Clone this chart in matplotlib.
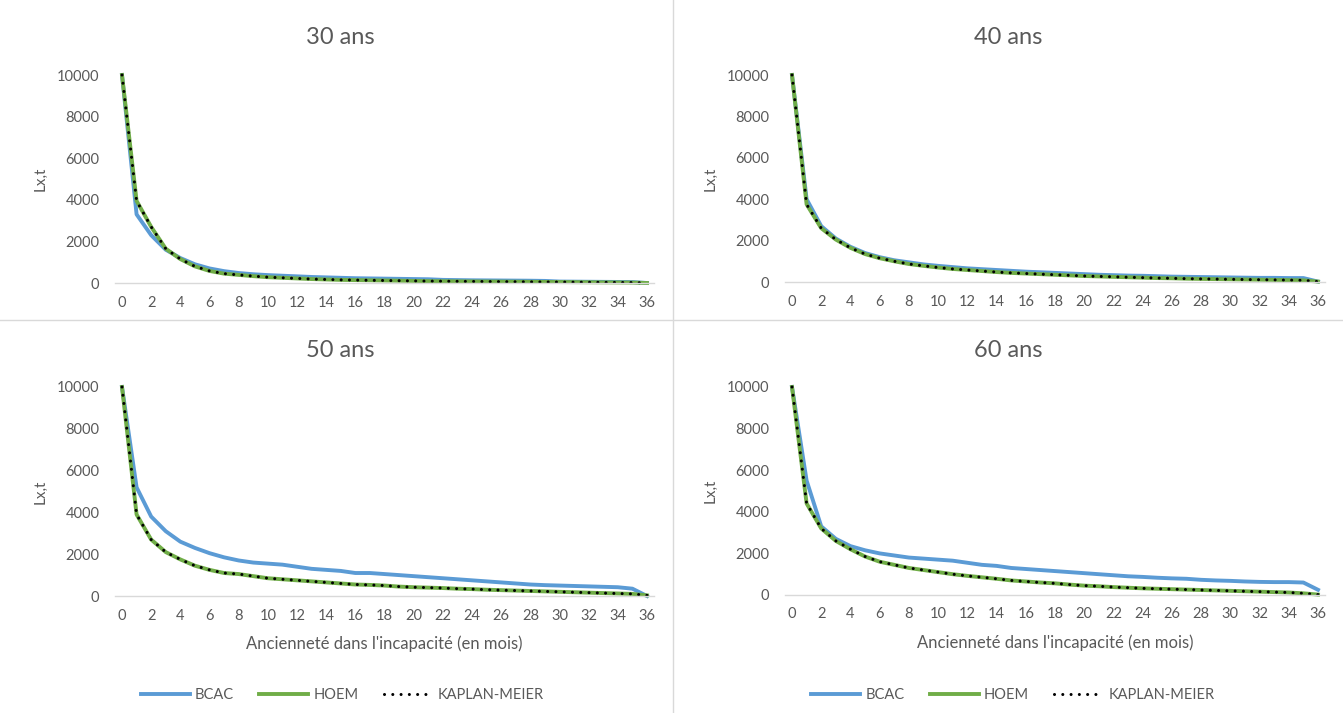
import matplotlib
matplotlib.use("Agg")
import matplotlib.pyplot as plt
from matplotlib.lines import Line2D

plt.rcParams['font.family'] = ['Lato', 'DejaVu Sans']

mois = list(range(37))
xticks = list(range(0, 37, 2))
yticks = [0, 2000, 4000, 6000, 8000, 10000]
titles = ["30 ans", "40 ans", "50 ans", "60 ans"]

# valeurs
bcac30 = [10000, 3300, 2300, 1600, 1200, 900, 700, 570, 480, 420, 380, 350, 320, 290, 270, 250, 230, 220,
          210, 200, 190, 180, 150, 140, 130, 125, 120, 115, 110, 100, 70, 65, 60, 55, 50, 45, 0]
km30 = [10000, 3950, 2700, 1650, 1150, 800, 580, 450, 390, 330, 280, 250, 220, 190, 170, 150, 140, 130,
        120, 110, 100, 90, 85, 80, 75, 70, 65, 60, 55, 50, 45, 40, 35, 30, 25, 20, 0]
hoem30 = list(km30)

bcac40 = [10000, 4000, 2700, 2100, 1700, 1400, 1200, 1050, 950, 850, 780, 720, 660, 620, 580, 540, 500, 470,
          440, 410, 380, 350, 330, 310, 300, 280, 260, 250, 240, 230, 220, 210, 200, 200, 190, 190, 20]
km40 = [10000, 3750, 2600, 2050, 1650, 1350, 1150, 1000, 870, 780, 700, 630, 580, 530, 480, 440, 410, 380,
        350, 320, 290, 270, 250, 230, 210, 190, 180, 160, 150, 140, 130, 120, 110, 100, 90, 80, 20]
hoem40 = list(km40)

bcac50 = [10000, 5200, 3800, 3100, 2600, 2300, 2050, 1850, 1700, 1600, 1550, 1500, 1400, 1300, 1250, 1200,
          1100, 1100, 1050, 1000, 950, 900, 850, 800, 750, 700, 650, 600, 550, 520, 500, 480, 460, 440, 420,
          350, 0]
km50 = [10000, 3900, 2700, 2100, 1750, 1450, 1250, 1100, 1050, 950, 850, 800, 750, 700, 650, 600, 550, 530,
        500, 450, 420, 400, 380, 350, 330, 300, 280, 260, 240, 220, 200, 180, 160, 140, 120, 100, 30]
hoem50 = list(km50)

bcac60 = [10000, 5500, 3300, 2700, 2350, 2150, 2000, 1900, 1800, 1750, 1700, 1650, 1550, 1450, 1400, 1300,
          1250, 1200, 1150, 1100, 1050, 1000, 950, 900, 870, 830, 800, 780, 730, 700, 680, 650, 630, 620, 620,
          600, 250]
km60 = [10000, 4400, 3200, 2600, 2200, 1850, 1600, 1450, 1300, 1200, 1100, 1000, 920, 850, 780, 700, 650,
        600, 560, 500, 450, 420, 380, 350, 320, 300, 280, 260, 240, 220, 200, 180, 160, 140, 120, 80, 20]
hoem60 = list(km60)

series = [(bcac30, hoem30, km30), (bcac40, hoem40, km40), (bcac50, hoem50, km50), (bcac60, hoem60, km60)]

W, H = 1343, 713
fig = plt.figure(figsize=(W / 100, H / 100), dpi=100)

# pixel boxes: (x of 0, x of 36, y of 0, y of 10000)
boxes = [(122, 647, 283, 75), (792, 1318, 282, 75), (122, 647, 596, 387), (792, 1318, 595, 387)]
# title centres (px)
title_pos = [(340, 38), (1008, 38), (340, 351), (1008, 351)]

gray = '#595959'
blue = '#5B9BD5'
green = '#70AD47'
dots = (0, (0.01, 2.7))

for i, (x0, x36, y0, ytop) in enumerate(boxes):
    u = (x36 - x0) / 36
    left = x0 - 0.5 * u
    right = x36 + 0.5 * u
    ax = fig.add_axes([left / W, 1 - y0 / H, (right - left) / W, (y0 - ytop) / H])
    bcac, hoem, km = series[i]
    ax.plot(mois, bcac, color=blue, lw=2.8, solid_joinstyle='round', clip_on=False, label='BCAC')
    ax.plot(mois, hoem, color=green, lw=2.8, solid_joinstyle='round', clip_on=False, label='HOEM')
    ax.plot(mois, km, color='black', lw=2.2, linestyle=dots, dash_capstyle='round',
            clip_on=False, label='KAPLAN-MEIER')
    ax.set_xlim(-0.5, 36.5)
    ax.set_ylim(0, 10000)
    ax.set_xticks(xticks)
    ax.set_yticks(yticks)
    for s in ['top', 'right', 'left']:
        ax.spines[s].set_visible(False)
    ax.spines['bottom'].set_color('#D9D9D9')
    ax.spines['bottom'].set_linewidth(1.0)
    ax.tick_params(axis='both', length=0, colors=gray, labelsize=10.5)
    ax.tick_params(axis='y', pad=11)
    ax.tick_params(axis='x', pad=9)
    ax.set_ylabel('Lx,t', color=gray, fontsize=11, labelpad=7)
    tx, ty = title_pos[i]
    fig.text(tx / W, 1 - ty / H, titles[i], color=gray, fontsize=17, ha='center', va='center')
    if i >= 2:
        ax.set_xlabel("Ancienneté dans l'incapacité (en mois)", color=gray, fontsize=12, labelpad=9)
        handles = [Line2D([], [], color=blue, lw=2.8),
                   Line2D([], [], color=green, lw=2.8),
                   Line2D([], [], color='black', lw=2.2, linestyle=dots, dash_capstyle='round')]
        leg = ax.legend(handles, ['BCAC', 'HOEM', 'KAPLAN-MEIER'], ncol=3, frameon=False,
                        loc='center', bbox_to_anchor=(0.422, -(695 - y0) / (y0 - ytop)),
                        fontsize=10.5, handlelength=3.35, columnspacing=1.75, handletextpad=0.35)
        for t in leg.get_texts():
            t.set_color(gray)

# separators between panels
fig.add_artist(Line2D([673 / W, 673 / W], [0, 1], color='#D9D9D9', lw=1))
fig.add_artist(Line2D([0, 1], [1 - 320 / H, 1 - 320 / H], color='#D9D9D9', lw=1))

fig.savefig('out.png', dpi=100, facecolor='white')
